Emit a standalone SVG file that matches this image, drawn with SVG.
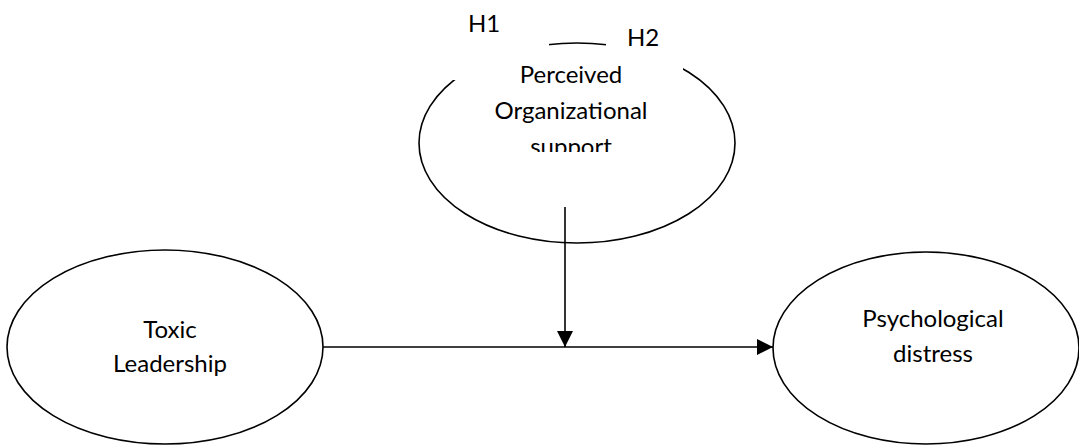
<svg xmlns="http://www.w3.org/2000/svg" width="1079" height="446" viewBox="0 0 1079 446">
<style>
.node ellipse{fill:none;stroke:#000;stroke-width:1.6}
text{font-family:Lato,"Open Sans","Liberation Sans",sans-serif;font-size:24px;fill:#000;text-anchor:middle}
.conn line{stroke:#000;stroke-width:1.6}
</style>
<defs>
<marker id="ah" viewBox="0 0 16 16" refX="16" refY="8" markerWidth="16" markerHeight="16" markerUnits="userSpaceOnUse" orient="auto">
<path d="M0,0 L16,8 L0,16 Z" fill="#000"/>
</marker>
<clipPath id="posclip"><rect x="400" y="0" width="340" height="152"/></clipPath>
</defs>
<rect width="1079" height="446" fill="#fff"/>
<g id="pos" class="node">
<ellipse cx="577" cy="143" rx="158" ry="100"/>
<rect x="440" y="0" width="109" height="80" fill="#fff"/>
<rect x="606" y="8" width="77" height="64" fill="#fff"/>
<g clip-path="url(#posclip)">
<text x="571" y="83">Perceived</text>
<text x="571" y="119">Organizational</text>
<text x="571" y="155">support</text>
</g>
</g>
<g id="h1"><text x="484" y="32">H1</text></g>
<g id="h2"><text x="643" y="46">H2</text></g>
<g id="toxic" class="node">
<ellipse cx="165" cy="347" rx="158" ry="97"/>
<text x="170" y="338">Toxic</text>
<text x="170" y="372">Leadership</text>
</g>
<g id="distress" class="node">
<ellipse cx="926" cy="348" rx="153" ry="96"/>
<text x="933" y="327">Psychological</text>
<text x="933" y="362">distress</text>
</g>
<g id="connectors" class="conn">
<line x1="323" y1="347" x2="773" y2="347" marker-end="url(#ah)"/>
<line x1="565" y1="207" x2="565" y2="347" marker-end="url(#ah)"/>
</g>
</svg>
